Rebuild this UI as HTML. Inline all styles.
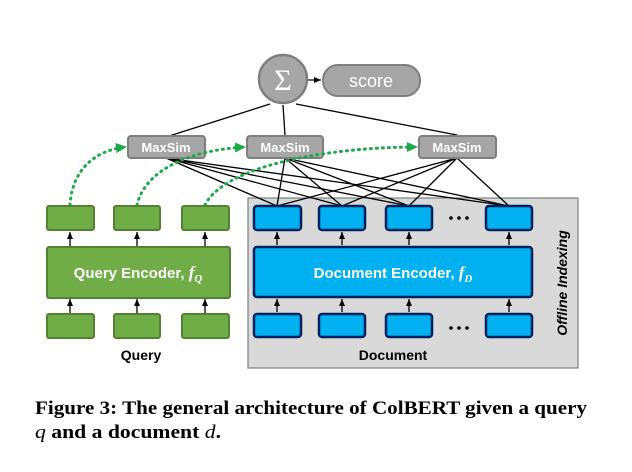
<!DOCTYPE html><html><head><style>body{margin:0;background:#fff}svg{display:block}</style></head><body>
<svg width="632" height="472" viewBox="0 0 632 472" xmlns="http://www.w3.org/2000/svg" font-family="Liberation Sans, sans-serif">
<defs>
<marker id="a" markerWidth="8" markerHeight="8" refX="7" refY="4" orient="auto" markerUnits="userSpaceOnUse"><path d="M0,1 L7,4 L0,7z" fill="#000"/></marker>
<marker id="g" markerWidth="12" markerHeight="12" refX="10" refY="6" orient="auto" markerUnits="userSpaceOnUse"><path d="M0,1 L11,6 L0,11z" fill="#1aaa4a"/></marker>
</defs>
<rect x="248" y="198" width="330" height="170" fill="#d9d9d9" stroke="#7f7f7f" stroke-width="1.2"/>
<text transform="translate(567,283) rotate(-90)" text-anchor="middle" font-size="14" font-style="italic" font-weight="bold" fill="#000">Offline Indexing</text>
<g stroke="#000" stroke-width="1.3" fill="none">
<path d="M166,158 L277,206 M166,158 L342,206 M166,158 L409,206 M166,158 L509,206"/>
<path d="M285,158 L277,206 M285,158 L342,206 M285,158 L409,206 M285,158 L509,206"/>
<path d="M457,158 L277,206 M457,158 L342,206 M457,158 L409,206 M457,158 L509,206"/>
<path d="M166,137 L270,104 M285,135 L283,105 M457,135 L296,104"/>
</g>
<path d="M308,80 L321,80" stroke="#000" stroke-width="1.2" marker-end="url(#a)"/>
<circle cx="283" cy="79" r="24" fill="#a6a6a6" stroke="#7f7f7f" stroke-width="2.5"/>
<text x="283" y="90" text-anchor="middle" font-size="30" fill="#fff" font-family="Liberation Serif, serif">Σ</text>
<rect x="323" y="65" width="97" height="31" rx="15" fill="#a6a6a6" stroke="#7f7f7f" stroke-width="2"/>
<text x="371" y="87" text-anchor="middle" font-size="18" fill="#fff">score</text>
<g fill="#a6a6a6" stroke="#7f7f7f" stroke-width="2">
<rect x="128" y="136" width="77" height="22" rx="3"/><rect x="247" y="136" width="76" height="22" rx="3"/><rect x="419" y="136" width="77" height="22" rx="3"/>
</g>
<g font-size="13" font-weight="bold" fill="#fff" text-anchor="middle">
<text x="166" y="152">MaxSim</text><text x="285" y="152">MaxSim</text><text x="457" y="152">MaxSim</text>
</g>
<g fill="none" stroke="#1aaa4a" stroke-width="3" stroke-dasharray="1,5" stroke-linecap="round" marker-end="url(#g)">
<path d="M70,205 C72,170 95,150 126,147"/>
<path d="M137,205 C145,170 190,150 245,147"/>
<path d="M205,205 C225,165 330,147 417,147"/>
</g>
<g fill="#70ad47" stroke="#548235" stroke-width="2">
<rect x="47" y="206" width="47" height="24" rx="2"/><rect x="114" y="206" width="46" height="24" rx="2"/><rect x="182" y="206" width="47" height="24" rx="2"/>
<rect x="47" y="247" width="183" height="51" rx="2"/>
<rect x="47" y="314" width="47" height="24" rx="2"/><rect x="114" y="314" width="46" height="24" rx="2"/><rect x="182" y="314" width="47" height="24" rx="2"/>
</g>
<text x="138" y="278" text-anchor="middle" font-size="15" font-weight="bold" fill="#fff">Query Encoder, <tspan font-family="Liberation Serif, serif" font-style="italic" font-size="17">f</tspan><tspan font-family="Liberation Serif, serif" font-style="italic" font-size="11" dy="4">Q</tspan></text>
<g fill="#00b0f0" stroke="#002060" stroke-width="2.5">
<rect x="254" y="206" width="47" height="24" rx="3"/><rect x="319" y="206" width="46" height="24" rx="3"/><rect x="386" y="206" width="46" height="24" rx="3"/><rect x="486" y="206" width="46" height="24" rx="3"/>
<rect x="254" y="247" width="278" height="50" rx="3"/>
<rect x="254" y="314" width="47" height="23" rx="3"/><rect x="319" y="314" width="46" height="23" rx="3"/><rect x="386" y="314" width="46" height="23" rx="3"/><rect x="486" y="314" width="46" height="23" rx="3"/>
</g>
<text x="393" y="278" text-anchor="middle" font-size="15" font-weight="bold" fill="#fff">Document Encoder, <tspan font-family="Liberation Serif, serif" font-style="italic" font-size="17">f</tspan><tspan font-family="Liberation Serif, serif" font-style="italic" font-size="11" dy="4">D</tspan></text>
<g stroke="#000" stroke-width="1.3" marker-end="url(#a)">
<path d="M70,246 L70,232"/><path d="M137,246 L137,232"/><path d="M205,246 L205,232"/>
<path d="M70,313 L70,299"/><path d="M137,313 L137,299"/><path d="M205,313 L205,299"/>
<path d="M277,245 L277,232"/><path d="M342,245 L342,232"/><path d="M409,245 L409,232"/><path d="M509,245 L509,232"/>
<path d="M277,312 L277,299"/><path d="M342,312 L342,299"/><path d="M409,312 L409,299"/><path d="M509,312 L509,299"/>
</g>
<g fill="#000"><circle cx="451" cy="218" r="1.8"/><circle cx="459" cy="218" r="1.8"/><circle cx="467" cy="218" r="1.8"/>
<circle cx="451" cy="328" r="1.8"/><circle cx="459" cy="328" r="1.8"/><circle cx="467" cy="328" r="1.8"/></g>
<text x="141" y="360" text-anchor="middle" font-size="14" font-weight="bold">Query</text>
<text x="393" y="360" text-anchor="middle" font-size="14" font-weight="bold">Document</text>
<g font-family="Liberation Serif, serif" font-size="19" font-weight="bold">
<text x="35" y="414" textLength="552" lengthAdjust="spacingAndGlyphs">Figure 3: The general architecture of ColBERT given a query</text>
<text x="35" y="438" textLength="186" lengthAdjust="spacingAndGlyphs"><tspan font-style="italic" font-weight="normal">q</tspan> and a document <tspan font-style="italic" font-weight="normal">d</tspan>.</text>
</g>
</svg></body></html>
